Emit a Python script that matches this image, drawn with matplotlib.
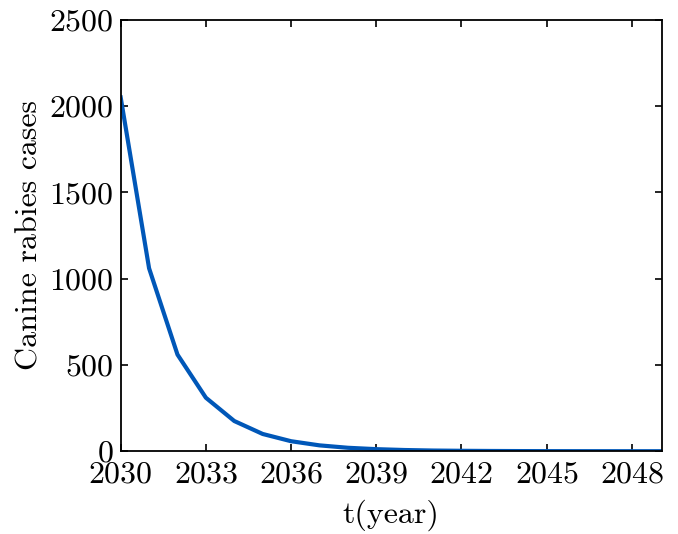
import matplotlib
matplotlib.use("Agg")
from matplotlib import pyplot as plt

# estimated yearly canine rabies cases
years = list(range(2030, 2050))
cases = [2050, 1060, 560, 310, 175, 100, 58, 34, 20, 12,
         7, 4, 2.5, 1.5, 0.9, 0.5, 0.3, 0.2, 0.1, 0.06]

xticks = list(range(2030, 2049, 3))
yticks = [0, 500, 1000, 1500, 2000, 2500]

plt.rcParams['font.family'] = 'cmr10'
plt.rcParams['axes.formatter.use_mathtext'] = True
plt.rcParams['mathtext.fontset'] = 'cm'

fig = plt.figure(figsize=(6.78, 5.34), dpi=100)
ax = fig.add_axes([0.178, 0.155, 0.798, 0.808])
ax.plot(years, cases, color='#0057b8', linewidth=3.0)

ax.set_xlim(2030, 2049.05)
ax.set_ylim(0, 2500)
ax.set_xticks(xticks)
ax.set_yticks(yticks)
ax.tick_params(direction='in', top=True, right=True, length=5, width=1.2,
               labelsize=23, pad=5)
ax.tick_params(axis='x', pad=7)
for s in ax.spines.values():
    s.set_linewidth(1.3)

ax.set_xlabel('t(year)', fontsize=23, labelpad=8)
ax.set_ylabel('Canine rabies cases', fontsize=23, labelpad=4)

fig.savefig('out.png', dpi=100)
